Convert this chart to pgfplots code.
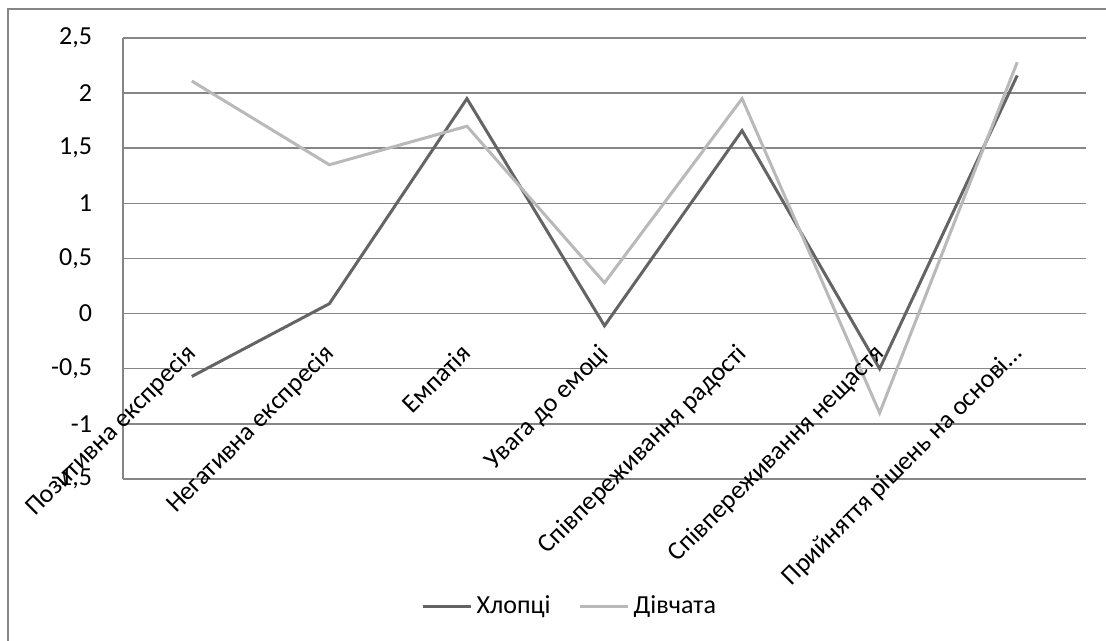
\documentclass[border=0pt]{standalone}
\usepackage{fontspec}
\setmainfont{Carlito}
\usepackage{pgfplots}
\pgfplotsset{compat=1.18}
\definecolor{boys}{RGB}{100,100,100}
\definecolor{girls}{RGB}{185,185,185}
\definecolor{gridc}{RGB}{134,134,134}
\begin{document}
\fontsize{13}{15}\selectfont
\begin{tikzpicture}
\path[use as bounding box] (-61.5pt,-81pt) rectangle (491.5pt,239.5pt);
\draw[gridc,line width=0.9pt] (-57.5pt,-81pt) -- (-57.5pt,235pt) -- (491.5pt,235pt);
\begin{axis}[
  at={(0pt,0pt)}, anchor=south west,
  scale only axis, width=481.5pt, height=220.5pt,
  xmin=-0.5, xmax=6.5, ymin=-1.5, ymax=2.5,
  axis x line=none,
  axis y line*=left,
  y axis line style={gridc,line width=0.75pt},
  ytick={-1.5,-1,-0.5,0,0.5,1,1.5,2,2.5},
  yticklabels={{-1,5},{-1},{-0,5},{0},{0,5},{1},{1,5},{2},{2,5}},
  ymajorgrids,
  major grid style={gridc,line width=0.75pt},
  major tick length=0pt,
  yticklabel style={font=\fontsize{13}{15}\selectfont, anchor=east, xshift=-11pt},
  legend style={at={(0.465,-0.29)}, anchor=center, draw=none, legend columns=2,
    font=\fontsize{13}{15}\selectfont, /tikz/every even column/.append style={column sep=12pt}},
  legend image code/.code={\draw[#1,line width=1.5pt] (0pt,0pt) -- (24pt,0pt);},
  clip=false,
]
\addplot[boys, line width=1.5pt] coordinates {(0,-0.57) (1,0.09) (2,1.95) (3,-0.11) (4,1.66) (5,-0.50) (6,2.16)};
\addlegendentry{Хлопці}
\addplot[girls, line width=1.5pt] coordinates {(0,2.11) (1,1.35) (2,1.70) (3,0.28) (4,1.95) (5,-0.90) (6,2.28)};
\addlegendentry{Дівчата}
\end{axis}
\begin{axis}[
  at={(0pt,0pt)}, anchor=south west,
  scale only axis, width=481.5pt, height=220.5pt,
  xmin=-0.5, xmax=6.5, ymin=-1.5, ymax=2.5,
  axis x line*=middle, axis y line=none,
  x axis line style={draw=none},
  xtick={0,1,2,3,4,5,6}, major tick length=0pt,
  xticklabels={{Позитивна експресія},{Негативна експресія},{Емпатія},{Увага до емоці},{Співпереживання радості},{Співпереживання нещастя},{Прийняття рішень на основі\ldots}},
  xticklabel style={font=\fontsize{13}{15}\selectfont, rotate=45, anchor=north east, inner sep=0pt, xshift=-12.5pt, yshift=-7.5pt},
]
\end{axis}
\end{tikzpicture}
\end{document}
